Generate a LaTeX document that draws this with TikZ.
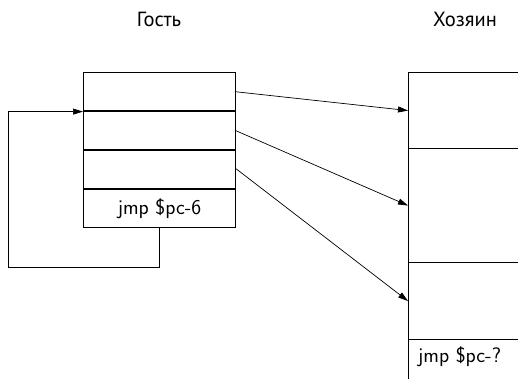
\documentclass[tikz,border=0pt]{standalone}
\usepackage{fontspec}
\newfontfamily\cyr{PT Sans}
\usetikzlibrary{arrows.meta}
\begin{document}
\begin{tikzpicture}[x=1pt,y=-1pt,
  cell/.style={draw, line width=1.1pt, minimum width=152pt, minimum height=38.5pt, inner sep=0pt, anchor=north west, font=\sffamily\fontsize{21}{24}\selectfont},
  hcell/.style={draw, line width=1.1pt, minimum width=130pt, inner sep=0pt, anchor=north west},
  arr/.style={-{Triangle[length=10pt,width=6pt]}, line width=0.7pt},
  title/.style={font=\cyr\fontsize{20.5}{24}\selectfont}]
\useasboundingbox (0,0) rectangle (518,379);
% guest
\node[cell] (g1) at (83,72) {};
\node[cell] (g2) at (83,111) {};
\node[cell] (g3) at (83,149) {};
\node[cell] (g4) at (83,188.5) {jmp \$pc-6};
% host
\node[hcell, minimum height=76pt] (h1) at (408,72) {};
\node[hcell, minimum height=114pt] (h2) at (408,148) {};
\node[hcell, minimum height=77pt] (h3) at (408,262) {};
\node[hcell, minimum height=60pt] (h4) at (408,339) {};
\node[anchor=west, inner sep=0pt, font=\sffamily\fontsize{21}{24}\selectfont] (hjmp) at (418,357) {jmp \$pc-?};
% titles
\node[title] (tg) at (159,19) {Гость};
\node[title] (th) at (465,19) {Хозяин};
% arrows
\draw[arr] (g1.east) -- (h1.west);
\draw[arr] (g2.east) -- (h2.west);
\draw[arr] (g3.east) -- (h3.west);
\coordinate (lb) at (8,267);
\draw[arr] (g4.south) |- (lb) |- (g1.south west);
\end{tikzpicture}
\end{document}
